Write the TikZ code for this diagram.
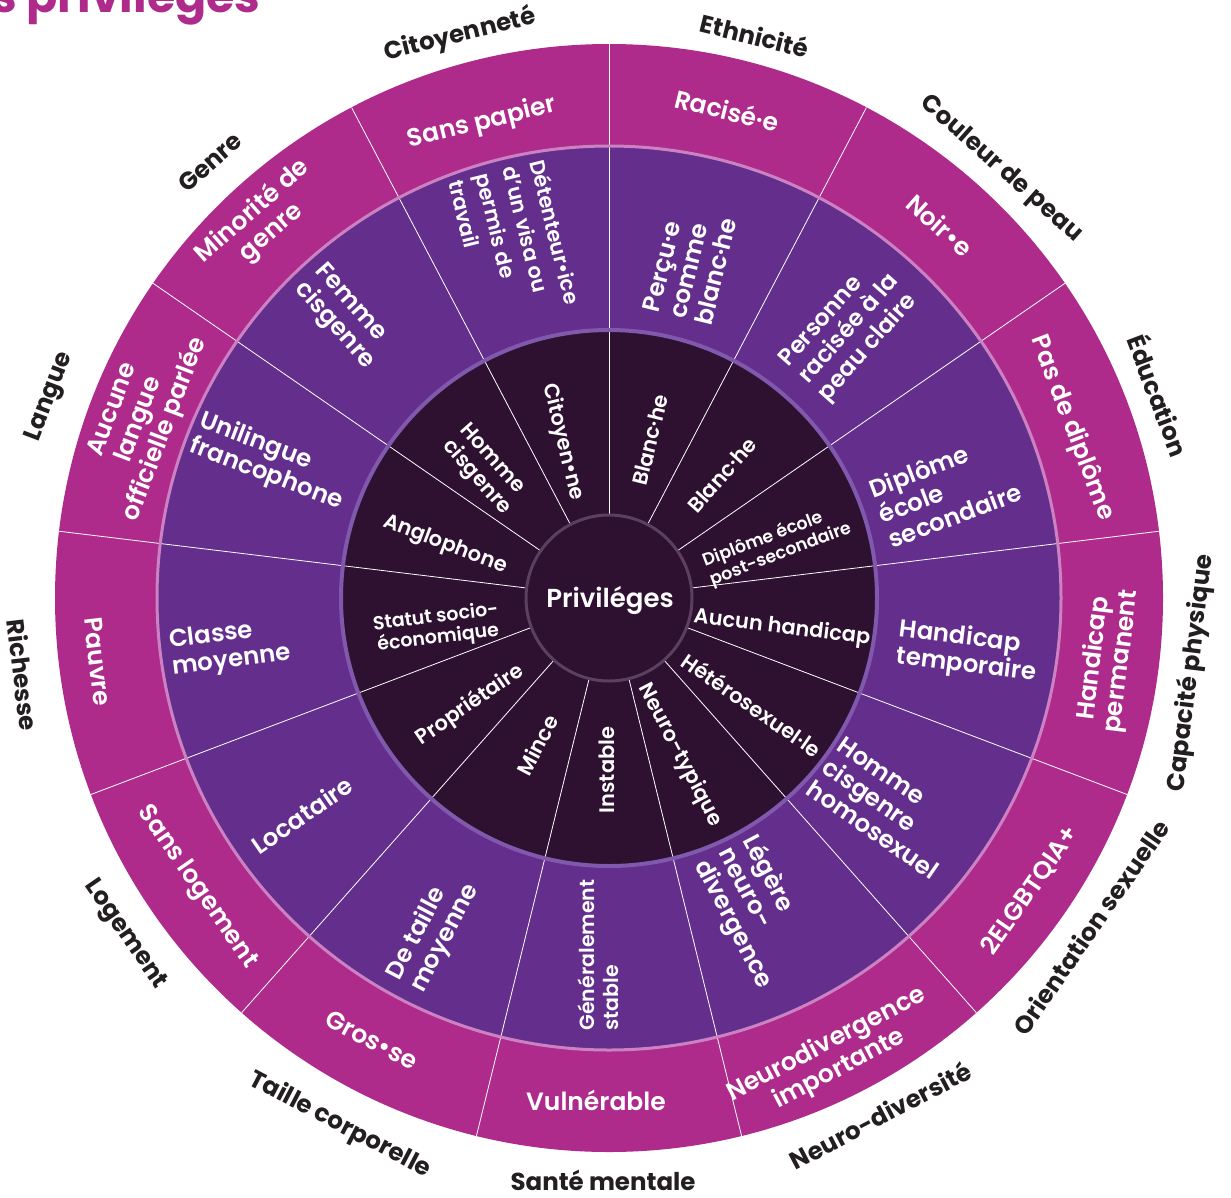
\documentclass[tikz,border=0pt]{standalone}
\usepackage{fontspec}
\setmainfont{Poppins}[BoldFont={Poppins SemiBold}]
\newfontfamily\heavy{Poppins Bold}
\definecolor{mag}{RGB}{174,43,140}
\definecolor{pur}{RGB}{100,46,140}
\definecolor{dark}{RGB}{46,16,48}
\definecolor{ringA}{RGB}{204,130,194}
\definecolor{ringB}{RGB}{128,88,172}
\definecolor{ringC}{RGB}{92,64,98}
\definecolor{lbl}{RGB}{35,31,32}
\tikzset{
  inr/.style={text=white, font=\bfseries\fontsize{21}{24}\selectfont, align=left, inner sep=0pt},
  mid/.style={text=white, font=\bfseries\fontsize{24.5}{27}\selectfont, align=left, inner sep=0pt},
  outr/.style={text=white, font=\bfseries\fontsize{25}{28}\selectfont, align=center, inner sep=0pt},
  cat/.style={text=lbl, font=\heavy\fontsize{24.5}{26}\selectfont, inner sep=0pt},
  sep/.style={white, line width=0.8pt},
}
\begin{document}
\begin{tikzpicture}[x=1pt,y=-1pt]
\clip (0,0) rectangle (1231,1197);
\fill[white] (0,0) rectangle (1231,1197);
\coordinate (C) at (609,598);
% rings
\fill[mag] (C) circle[radius=554pt];
\fill[pur] (C) circle[radius=452pt];
\fill[dark] (C) circle[radius=268pt];
\begin{scope}[shift={(C)}]
\foreach \k in {0,...,12}{
  \draw[sep] ({90-27.6923*\k}:83pt) -- ({90-27.6923*\k}:554pt);
}
\end{scope}
\draw[ringA, line width=3pt] (C) circle[radius=452pt];
\draw[ringB, line width=4pt] (C) circle[radius=268pt];
\fill[dark] (C) circle[radius=83pt];
\draw[ringC, line width=3pt] (C) circle[radius=83pt];
\node[text=white, font=\bfseries\fontsize{26}{26}\selectfont] (centre) at (610,600) {Priviléges};
% title
\node[anchor=base west, text=mag, font=\heavy\fontsize{46}{46}\selectfont, inner sep=0pt] (title) at (-9,12) {s privilèges};
% inner ring
\node[inr, rotate=-76.15] (i12) at (563,442) {Citoyen•ne};
\node[inr, rotate=76.15] (i0) at (650,440) {Blanc·he};
\node[inr, rotate=48.46] (i1) at (722,475) {Blanc·he};
\node[inr, rotate=20.77, font=\bfseries\fontsize{17.5}{20}\selectfont] (i2) at (777,545) {Diplôme école\\post-secondaire};
\node[inr, rotate=-6.92] (i3) at (782,628) {Aucun handicap};
\node[inr, rotate=-34.62] (i4) at (752,705) {Hétérosexuel·le};
\node[inr, rotate=-62.31] (i5) at (680,755) {Neuro-typique};
\node[inr, rotate=90] (i6) at (607,770) {Instable};
\node[inr, rotate=62.31] (i7) at (537,745) {Mince};
\node[inr, rotate=34.62] (i8) at (470,705) {Propriétaire};
\node[inr, rotate=6.92, align=center, font=\bfseries\fontsize{19}{21}\selectfont] (i9) at (437,628) {Statut socio-\\économique};
\node[inr, rotate=-20.77] (i10) at (445,545) {Anglophone};
\node[inr, rotate=-48.46] (i11) at (485,470) {Homme\\cisgenre};
% middle ring
\node[mid, rotate=-76.15, font=\bfseries\fontsize{21}{28}\selectfont] (m12) at (515,242) {Détenteur•ice\\d'un visa ou\\permis de\\travail};
\node[mid, rotate=76.15] (m0) at (690,265) {Perçu·e\\comme\\blanc·he};
\node[mid, rotate=48.46, font=\bfseries\fontsize{23.5}{26}\selectfont] (m1) at (850,330) {Personne\\racisée à la\\peau claire};
\node[mid, rotate=20.77] (m2) at (945,490) {Diplôme\\école\\secondaire};
\node[mid, rotate=-6.92] (m3) at (968,652) {Handicap\\temporaire};
\node[mid, rotate=-34.62] (m4) at (888,808) {Homme\\cisgenre\\homosexuel};
\node[mid, rotate=-62.31] (m5) at (757,912) {Légère\\neuro-\\divergence};
\node[mid, rotate=90, font=\bfseries\fontsize{20.5}{24}\selectfont] (m6) at (598,955) {Généralement\\stable};
\node[mid, rotate=62.31] (m7) at (433,932) {De taille\\moyenne};
\node[mid, rotate=34.62] (m8) at (302,815) {Locataire};
\node[mid, rotate=6.92] (m9) at (230,648) {Classe\\moyenne};
\node[mid, rotate=-20.77] (m10) at (271,462) {Unilingue\\francophone};
\node[mid, rotate=-48.46] (m11) at (344,317) {Femme\\cisgenre};
% outer ring
\node[outr, rotate=13.85] (o12) at (482,123) {Sans papier};
\node[outr, rotate=-13.85] (o0) at (727,110) {Racisé·e};
\node[outr, rotate=-41.54] (o1) at (940,225) {Noir•e};
\node[outr, rotate=-69.23] (o2) at (1072,428) {Pas de diplôme};
\node[outr, rotate=83.08] (o3) at (1108,660) {Handicap\\permanent};
\node[outr, rotate=55.38] (o4) at (1030,890) {2ELGBTQIA+};
\node[outr, rotate=27.69] (o5) at (833,1057) {Neurodivergence\\importante};
\node[outr] (o6) at (596,1100) {Vulnérable};
\node[outr, rotate=-27.69] (o7) at (372,1040) {Gros•se};
\node[outr, rotate=-55.38] (o8) at (197,887) {Sans logement};
\node[outr, rotate=-83.08] (o9) at (98,662) {Pauvre};
\node[outr, rotate=69.23] (o10) at (140,420) {Aucune\\langue\\officielle parlée};
\node[outr, rotate=41.54] (o11) at (262,222) {Minorité de\\genre};
% category labels
\node[cat, rotate=13.85] (c12) at (460,35) {Citoyenneté};
\node[cat, rotate=-13.85] (c0) at (755,35) {Ethnicité};
\node[cat, rotate=-41.54] (c1) at (1001,169) {Couleur de peau};
\node[cat, rotate=-69.23] (c2) at (1160,395) {Éducation};
\node[cat, rotate=83.08] (c3) at (1191,673) {Capacité physique};
\node[cat, rotate=55.38] (c4) at (1091,927) {Orientation sexuelle};
\node[cat, rotate=27.69] (c5) at (880,1115) {Neuro-diversité};
\node[cat] (c6) at (603,1180) {Santé mentale};
\node[cat, rotate=-27.69] (c7) at (340,1125) {Taille corporelle};
\node[cat, rotate=-55.38] (c8) at (125,935) {Logement};
\node[cat, rotate=-83.08] (c9) at (23,675) {Richesse};
\node[cat, rotate=69.23] (c10) at (50,397) {Langue};
\node[cat, rotate=41.54] (c11) at (210,162) {Genre};
\end{tikzpicture}
\end{document}
